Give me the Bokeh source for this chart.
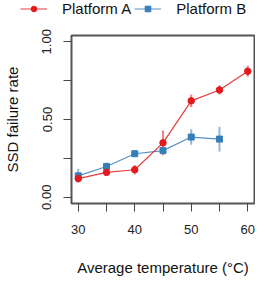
from bokeh.plotting import figure
from bokeh.layouts import column
from bokeh.models import ColumnDataSource, FixedTicker, Legend, LegendItem, Range1d
from bokeh.embed import file_html
from bokeh.resources import INLINE

temps_a = [30, 35, 40, 45, 50, 55, 60]
rate_a = [0.12, 0.16, 0.177, 0.35, 0.62, 0.69, 0.81]
err_a = [0.02, 0.015, 0.03, 0.08, 0.04, 0.03, 0.035]

temps_b = [30, 35, 40, 45, 50, 55]
rate_b = [0.138, 0.198, 0.28, 0.30, 0.387, 0.374]
err_b = [0.045, 0.025, 0.02, 0.02, 0.05, 0.08]

x_ticks = [30, 35, 40, 45, 50, 55, 60]
x_labels = {30: "30", 35: "", 40: "40", 45: "", 50: "50", 55: "", 60: "60"}
y_ticks = [0, 0.25, 0.5, 0.75, 1.0]
y_labels = {0: "0.00", 0.25: "", 0.5: "0.50", 0.75: "", 1: "1.00"}
series_names = ["Platform A", "Platform B"]

RED = "#E41A1C"
BLUE = "#377EB8"
FONT = "Liberation Sans"

src_a = ColumnDataSource(dict(x=temps_a, y=rate_a,
                              lo=[v - e for v, e in zip(rate_a, err_a)],
                              hi=[v + e for v, e in zip(rate_a, err_a)]))
src_b = ColumnDataSource(dict(x=temps_b, y=rate_b,
                              lo=[v - e for v, e in zip(rate_b, err_b)],
                              hi=[v + e for v, e in zip(rate_b, err_b)]))

# ---- main plot ----
p = figure(frame_width=183, frame_height=168, output_backend="svg",
           toolbar_location=None,
           x_range=Range1d(28.8, 61.2), y_range=Range1d(-0.04, 1.04),
           min_border_left=65, min_border_right=1, min_border_top=19,
           min_border_bottom=60)
p.background_fill_color = "white"
p.border_fill_color = "white"
p.outline_line_color = "#555555"
p.outline_line_width = 2
p.grid.visible = False

p.segment(x0="x", y0="lo", x1="x", y1="hi", source=src_b, line_color=BLUE,
          line_width=2, line_alpha=0.55)
p.segment(x0="x", y0="lo", x1="x", y1="hi", source=src_a, line_color=RED,
          line_width=2, line_alpha=0.55)
p.line("x", "y", source=src_b, line_color=BLUE, line_width=1.2, line_alpha=0.85)
p.scatter("x", "y", source=src_b, marker="square", size=6, fill_color=BLUE,
          line_color=BLUE)
p.line("x", "y", source=src_a, line_color=RED, line_width=1.2, line_alpha=0.85)
p.scatter("x", "y", source=src_a, marker="circle", size=6.5, fill_color=RED,
          line_color=RED)

for ax in (p.xaxis[0], p.yaxis[0]):
    ax.axis_line_color = None
    ax.major_tick_line_color = "#444444"
    ax.major_tick_line_width = 1
    ax.major_tick_in = 0
    ax.major_tick_out = 8
    ax.minor_tick_line_color = None
    ax.major_label_text_font = FONT
    ax.major_label_text_font_size = "13px"
    ax.major_label_text_color = "#222222"
    ax.axis_label_text_font = FONT
    ax.axis_label_text_font_size = "15px"
    ax.axis_label_text_font_style = "normal"
    ax.axis_label_text_color = "#111111"

p.xaxis.ticker = FixedTicker(ticks=x_ticks)
p.xaxis.major_label_overrides = x_labels
p.xaxis.major_label_standoff = 13
p.xaxis.axis_label = "Average temperature (°C)"
p.xaxis.axis_label_standoff = 22

p.yaxis.ticker = FixedTicker(ticks=y_ticks)
p.yaxis.major_label_overrides = y_labels
p.yaxis.major_label_orientation = "vertical"
p.yaxis.major_label_standoff = 12
p.yaxis.axis_label = "SSD failure rate"
p.yaxis.axis_label_standoff = 19

# ---- legend strip (its ranges keep the shared data out of view) ----
lg = figure(width=249, height=16, output_backend="svg", toolbar_location=None,
            x_range=Range1d(0, 1), y_range=Range1d(0, 1),
            x_axis_location=None, y_axis_location=None,
            min_border=0)
lg.outline_line_color = None
lg.grid.visible = False
lg.border_fill_color = "white"
if "frame_align" in lg.properties():
    lg.frame_align = False
    p.frame_align = False
la = lg.line("x", "y", source=src_a, line_color=RED, line_width=1.2, line_alpha=0.85)
sa = lg.scatter("x", "y", source=src_a, marker="circle", size=6.5,
                fill_color=RED, line_color=RED)
lb = lg.line("x", "y", source=src_b, line_color=BLUE, line_width=1.2, line_alpha=0.85)
sb = lg.scatter("x", "y", source=src_b, marker="square", size=6,
                fill_color=BLUE, line_color=BLUE)
legend = Legend(items=[LegendItem(label=series_names[0], renderers=[la, sa]),
                       LegendItem(label=series_names[1], renderers=[lb, sb])],
                orientation="horizontal", location="left",
                padding=0, margin=20, spacing=3,
                glyph_width=27, glyph_height=14, label_height=14,
                label_standoff=15,
                label_text_font=FONT, label_text_font_size="15px",
                label_text_color="#111111",
                border_line_color=None, background_fill_alpha=0)
lg.add_layout(legend, "center")

layout = column(lg, p, spacing=0)
open("out.html", "w").write(file_html(layout, INLINE))
